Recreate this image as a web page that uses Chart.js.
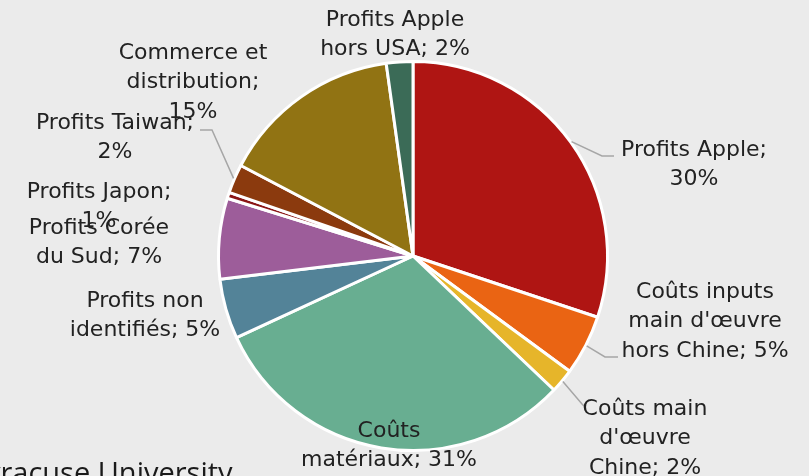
<!DOCTYPE html>
<html>
<head>
<meta charset="utf-8">
<script src="https://cdn.jsdelivr.net/npm/chart.js@4.4.1/dist/chart.umd.min.js"></script>
<style>
    html, body { margin: 0; padding: 0; background: #ebebeb; overflow: hidden; }
    #wrap { position: relative; width: 809px; height: 476px; }
    #footer { position: absolute; left: -30px; top: 457px; font: 29px 'Open Sans', sans-serif; line-height: 29px; color: #1a1a1a; white-space: nowrap; }
</style>
</head>
<body>
<div id="wrap">
    <canvas id="pieChart" width="809" height="476"></canvas>
    <div id="footer">Syracuse University</div>
</div>
<script>
// Slices, clockwise from 12 o'clock
const categories = [
    'Profits Apple',
    "Coûts inputs main d'œuvre hors Chine",
    "Coûts main d'œuvre Chine",
    'Coûts matériaux',
    'Profits non identifiés',
    'Profits Corée du Sud',
    'Profits Japon',
    'Profits Taiwan',
    'Commerce et distribution',
    'Profits Apple hors USA'
];
const shares = [30.1, 5.0, 2.0, 31.0, 5.0, 6.7, 0.5, 2.4, 15.1, 2.2];
const labelLines = [
    ['Profits Apple;', '30%'],
    ['Coûts inputs', "main d'œuvre", 'hors Chine; 5%'],
    ['Coûts main', "d'œuvre", 'Chine; 2%'],
    ['Coûts', 'matériaux; 31%'],
    ['Profits non', 'identifiés; 5%'],
    ['Profits Corée', 'du Sud; 7%'],
    ['Profits Japon;', '1%'],
    ['Profits Taiwan;', '2%'],
    ['Commerce et', 'distribution;', '15%'],
    ['Profits Apple', 'hors USA; 2%']
];

const colors = ['#af1513', '#ea6413', '#e6b52a', '#68ae91', '#538398', '#9d5d9a', '#8a1515', '#8b3a0e', '#917313', '#3b6b57'];

// label placement: centre x, first line y, optional leader [elbowX, elbowY, endX, endY]
const labelLayout = [
    { x: 694, y: 150, leader: [602, 156, 614, 156] },
    { x: 705, y: 292, leader: [605, 357, 618, 357] },
    { x: 645, y: 409, leader: [582, 404, 584, 406] },
    { x: 389, y: 431 },
    { x: 145, y: 301 },
    { x: 99, y: 228 },
    { x: 99, y: 192 },
    { x: 115, y: 123, leader: [212, 130, 200, 130] },
    { x: 193, y: 53 },
    { x: 395, y: 20 }
];

const pieLabels = {
    id: 'pieLabels',
    afterDatasetsDraw(chart) {
        const ctx = chart.ctx;
        const arcs = chart.getDatasetMeta(0).data;
        ctx.save();
        // leader lines
        ctx.strokeStyle = '#a6a6a6';
        ctx.lineWidth = 1.5;
        arcs.forEach((arc, i) => {
            const lay = labelLayout[i];
            if (!lay.leader) return;
            const mid = (arc.startAngle + arc.endAngle) / 2;
            const r = arc.outerRadius + 1;
            ctx.beginPath();
            ctx.moveTo(arc.x + Math.cos(mid) * r, arc.y + Math.sin(mid) * r);
            ctx.lineTo(lay.leader[0], lay.leader[1]);
            ctx.lineTo(lay.leader[2], lay.leader[3]);
            ctx.stroke();
        });
        // texts
        ctx.fillStyle = '#222';
        ctx.font = "22px 'DejaVu Sans', sans-serif";
        ctx.textAlign = 'center';
        ctx.textBaseline = 'middle';
        labelLines.forEach((lines, i) => {
            const lay = labelLayout[i];
            lines.forEach((t, k) => ctx.fillText(t, lay.x, lay.y + k * 29.5));
        });
        ctx.restore();
    }
};

new Chart(document.getElementById('pieChart').getContext('2d'), {
    type: 'pie',
    data: {
        labels: categories,
        datasets: [{
            data: shares,
            backgroundColor: colors,
            borderColor: '#ffffff',
            borderWidth: 3
        }]
    },
    options: {
        responsive: false,
        animation: false,
        layout: { padding: { left: 217, right: 200, top: 60, bottom: 24 } },
        plugins: {
            legend: { display: false },
            tooltip: { enabled: false }
        }
    },
    plugins: [pieLabels]
});
</script>
</body>
</html>
